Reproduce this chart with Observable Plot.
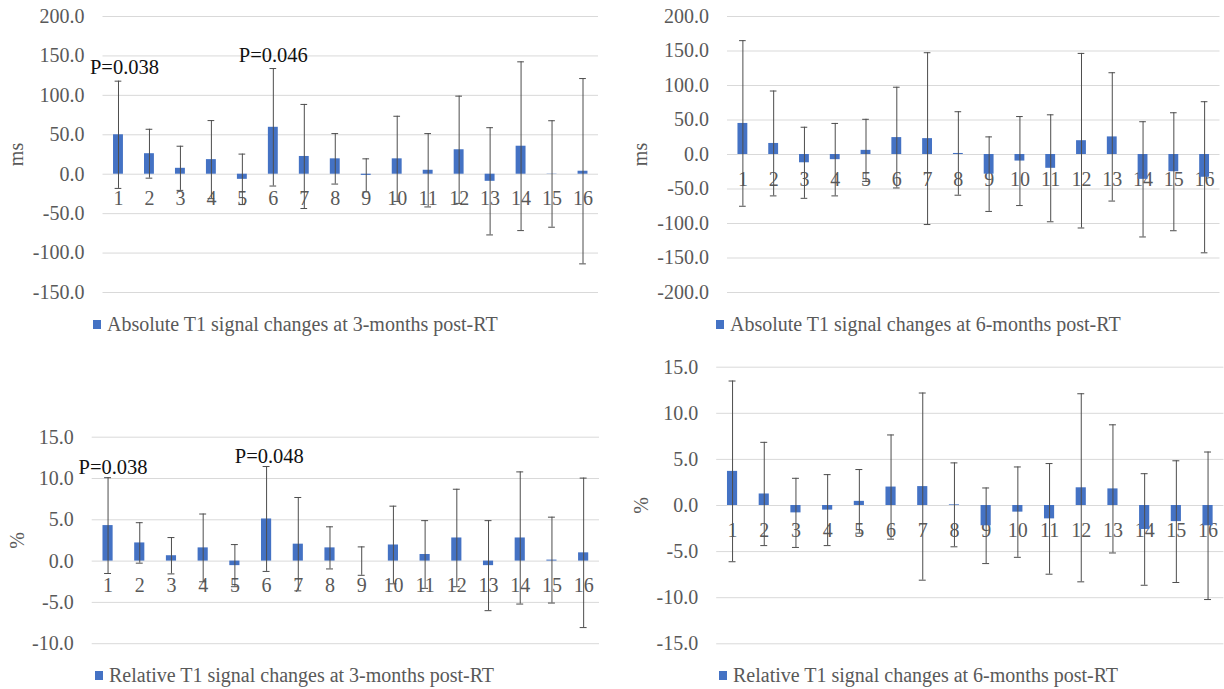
<!DOCTYPE html>
<html>
<head>
<meta charset="utf-8">
<script src="https://cdn.jsdelivr.net/npm/d3@7"></script>
<script src="https://cdn.jsdelivr.net/npm/@observablehq/plot@0.6"></script>
<style>
  html, body { margin: 0; padding: 0; background: #fff; }
  #page { position: relative; width: 1224px; height: 689px; overflow: hidden;
          font-family: "Liberation Serif", "Times New Roman", serif; background: #fff; }
  .panel { position: absolute; }
  .legend { position: absolute; font-size: 20px; line-height: 20px; color: #595959; white-space: nowrap; }
  .legend .sw { position: absolute; width: 8px; height: 9px; background: #4472C4; }
</style>
</head>
<body>
<div id="page"></div>
<script>
// Regions of interest 1–16
const categories = ["1","2","3","4","5","6","7","8","9","10","11","12","13","14","15","16"];

// Absolute T1 signal change (ms), 3 months post-RT: mean and SD
const abs3Mean = [50, 26, 7.5, 18.5, -6.5, 59.5, 22.5, 19.5, -1.5, 19.5, 5, 31, -9, 35.5, 0.3, 3.8];
const abs3Sd   = [68, 31, 28, 49.5, 32, 74.5, 66, 32, 21, 54, 46.5, 68, 68, 107, 67.5, 117.5];

// Absolute T1 signal change (ms), 6 months post-RT
const abs6Mean = [45, 16, -12, -7.5, 6, 24.5, 23, 1.5, -28.5, -9.5, -20, 20, 25.5, -36, -25, -33];
const abs6Sd   = [120, 76, 51.5, 52.5, 45, 73, 124.5, 60.5, 54, 64.5, 77.5, 126.5, 93, 83.5, 85.5, 109.5];

// Relative T1 signal change (%), 3 months post-RT
const rel3Mean = [4.3, 2.2, 0.65, 1.6, -0.55, 5.1, 2.05, 1.6, 0, 1.95, 0.8, 2.8, -0.55, 2.8, 0.12, 1.0];
const rel3Sd   = [5.8, 2.45, 2.2, 4.1, 2.55, 6.35, 5.65, 2.55, 1.72, 4.7, 4.1, 5.9, 5.45, 8.0, 5.2, 9.05];

// Relative T1 signal change (%), 6 months post-RT
const rel6Mean = [3.7, 1.25, -0.8, -0.5, 0.45, 2.0, 2.05, 0.07, -2.2, -0.72, -1.45, 1.92, 1.8, -2.6, -1.75, -2.2];
const rel6Sd   = [9.8, 5.6, 3.75, 3.85, 3.45, 5.65, 10.15, 4.55, 4.1, 4.9, 6.0, 10.2, 6.95, 6.05, 6.6, 8.0];

// Significance annotations
const abs3PCats = ["1", "6"];
const abs3PText = ["P=0.038", "P=0.046"];
const rel3PCats = ["1", "6"];
const rel3PText = ["P=0.038", "P=0.048"];

// Axis ticks and titles
const absTicks3 = [-150, -100, -50, 0, 50, 100, 150, 200];
const absTicks6 = [-200, -150, -100, -50, 0, 50, 100, 150, 200];
const relTicks3 = [-10, -5, 0, 5, 10, 15];
const relTicks6 = [-15, -10, -5, 0, 5, 10, 15];
const legendAbs3 = "Absolute T1 signal changes at 3-months post-RT";
const legendAbs6 = "Absolute T1 signal changes at 6-months post-RT";
const legendRel3 = "Relative T1 signal changes at 3-months post-RT";
const legendRel6 = "Relative T1 signal changes at 6-months post-RT";

const BLUE = "#4472C4";
const ERR = "#4d4d4d";
const GRID = "#d9d9d9";
const TEXT = "#595959";

const page = document.getElementById("page");

function panel(cfg) {
  const rows = categories.map((c, i) => ({
    cat: c, mean: cfg.means[i], lo: cfg.means[i] - cfg.sds[i], hi: cfg.means[i] + cfg.sds[i]
  }));
  const marks = [
    Plot.gridY(cfg.ticks, {stroke: GRID, strokeOpacity: 1, strokeWidth: 1}),
    Plot.axisY(cfg.ticks, {
      tickSize: 0, tickPadding: 18.5, tickFormat: d => d.toFixed(1),
      label: cfg.yLabel, labelAnchor: "center", labelArrow: "none", labelOffset: cfg.labelOffset
    }),
    Plot.text(categories, {x: d => d, y: () => 0, lineAnchor: "bottom", dy: 31, fill: TEXT}),
    Plot.barY(rows, {x: "cat", y: "mean", fill: BLUE}),
    Plot.ruleX(rows, {x: "cat", y1: "lo", y2: "hi", stroke: ERR, strokeWidth: 1}),
    Plot.tickY(rows, {x: "cat", y: "hi", stroke: ERR, strokeWidth: 1, insetLeft: 1.6, insetRight: 1.6}),
    Plot.tickY(rows, {x: "cat", y: "lo", stroke: ERR, strokeWidth: 1, insetLeft: 1.6, insetRight: 1.6})
  ];
  if (cfg.pCats) {
    cfg.pCats.forEach((c, k) => {
      const r = rows.find(d => d.cat === c);
      marks.push(Plot.text([r], {
        x: "cat", y: "hi", text: () => cfg.pText[k], lineAnchor: "bottom",
        dx: cfg.pDx[k], dy: cfg.pDy, fill: "#111", fontSize: 20.5
      }));
    });
  }
  const svg = Plot.plot({
    width: 612, height: cfg.height,
    marginTop: cfg.mt, marginBottom: cfg.mb, marginLeft: cfg.ml, marginRight: cfg.mr,
    style: {fontFamily: '"Liberation Serif", "Times New Roman", serif', fontSize: "20px", color: TEXT, background: "transparent", overflow: "visible"},
    x: {type: "band", domain: categories, paddingInner: 0.68, paddingOuter: 0.34, round: false, axis: null},
    y: {domain: cfg.domain},
    marks
  });
  svg.classList.add("panel");
  svg.style.left = cfg.left + "px";
  svg.style.top = cfg.top + "px";
  page.appendChild(svg);

  const lg = document.createElement("div");
  lg.className = "legend";
  lg.style.left = cfg.legendX + "px";
  lg.style.top = cfg.legendY + "px";
  const sw = document.createElement("span");
  sw.className = "sw";
  sw.style.left = "-14px";
  sw.style.top = "6px";
  lg.appendChild(sw);
  lg.appendChild(document.createTextNode(cfg.legend));
  page.appendChild(lg);
}

panel({
  means: abs3Mean, sds: abs3Sd, domain: [-150, 200], ticks: absTicks3, yLabel: "ms",
  left: 0, top: 0, height: 310, mt: 16, mb: 18, ml: 102.5, mr: 14, labelOffset: 94.6,
  pCats: abs3PCats, pText: abs3PText, pDx: [6, 0], pDy: -7,
  legend: legendAbs3, legendX: 107, legendY: 314
});
panel({
  means: abs6Mean, sds: abs6Sd, domain: [-200, 200], ticks: absTicks6, yLabel: "ms",
  left: 612, top: 0, height: 310, mt: 16, mb: 18, ml: 115, mr: 4.5, labelOffset: 94.7,
  legend: legendAbs6, legendX: 730, legendY: 314
});
panel({
  means: rel3Mean, sds: rel3Sd, domain: [-10, 15], ticks: relTicks3, yLabel: "%",
  left: 0, top: 345, height: 310, mt: 91.7, mb: 11.8, ml: 91.7, mr: 13, labelOffset: 82.4,
  pCats: rel3PCats, pText: rel3PText, pDx: [5, 2.7], pDy: -3.5,
  legend: legendRel3, legendX: 109, legendY: 665
});
panel({
  means: rel6Mean, sds: rel6Sd, domain: [-15, 15], ticks: relTicks6, yLabel: "%",
  left: 612, top: 345, height: 310, mt: 21.7, mb: 11.7, ml: 104.2, mr: 0.6, labelOffset: 83.2,
  legend: legendRel6, legendX: 733, legendY: 665
});
</script>
</body>
</html>
